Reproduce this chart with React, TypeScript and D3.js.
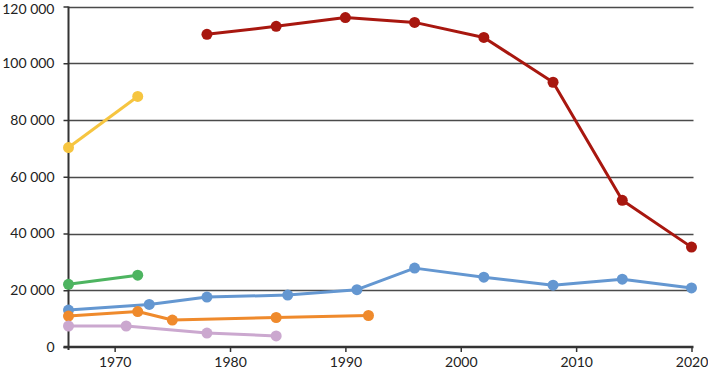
import { useEffect, useRef } from "react";
import * as d3 from "d3";

// Series values (year, value)
const redYears = [1978, 1984, 1990, 1996, 2002, 2008, 2014, 2020];
const redValues = [110200, 113000, 116100, 114400, 109100, 93300, 51700, 35200];

const yellowYears = [1966, 1972];
const yellowValues = [70300, 88300];

const greenYears = [1966, 1972];
const greenValues = [22100, 25300];

const blueYears = [1966, 1973, 1978, 1985, 1991, 1996, 2002, 2008, 2014, 2020];
const blueValues = [13000, 15000, 17600, 18300, 20200, 27800, 24600, 21800, 23900, 20800];

const orangeYears = [1966, 1972, 1975, 1984, 1992];
const orangeValues = [10900, 12500, 9500, 10400, 11100];

const purpleYears = [1966, 1971, 1978, 1984];
const purpleValues = [7400, 7400, 4900, 3900];

const yTicks = [0, 20000, 40000, 60000, 80000, 100000, 120000];
const xTicks = [1970, 1980, 1990, 2000, 2010, 2020];

type Pt = { year: number; value: number };
const zip = (ys: number[], vs: number[]): Pt[] => ys.map((year, i) => ({ year, value: vs[i] }));

const series = [
  { color: "#a8170f", width: 3, data: zip(redYears, redValues) },
  { color: "#f6c540", width: 3, data: zip(yellowYears, yellowValues) },
  { color: "#4db460", width: 3, data: zip(greenYears, greenValues) },
  { color: "#6497d1", width: 3, data: zip(blueYears, blueValues) },
  { color: "#ef8a2c", width: 3, data: zip(orangeYears, orangeValues) },
  { color: "#cba8cf", width: 3, data: zip(purpleYears, purpleValues) },
];

export default function App() {
  const ref = useRef<SVGSVGElement>(null);

  useEffect(() => {
    if (!ref.current) return;
    const svg = d3.select(ref.current);
    svg.selectAll("*").remove();

    const left = 68.5;
    const right = 693.5;
    const top = 6.5;
    const bottom = 347;

    const x = d3.scaleLinear().domain([1966, 2020]).range([left, 691.5]);
    const y = d3.scaleLinear().domain([0, 120000]).range([bottom, top]);

    const fmt = (v: number) => d3.format(",")(v).replace(/,/g, " ");
    const font = "Lato, 'Open Sans', sans-serif";

    // Horizontal grid lines
    svg
      .append("g")
      .selectAll("line")
      .data(yTicks.filter((t) => t > 0))
      .enter()
      .append("line")
      .attr("x1", left)
      .attr("x2", right)
      .attr("y1", (d) => Math.round(y(d)) + 0.5)
      .attr("y2", (d) => Math.round(y(d)) + 0.5)
      .attr("stroke", "#4a4a4a")
      .attr("stroke-width", 1.3);

    // Y axis
    svg
      .append("g")
      .attr("transform", `translate(${left},0)`)
      .call(d3.axisLeft(y).tickValues(yTicks).tickSize(5).tickPadding(9).tickFormat((d) => fmt(+d)))
      .call((g) => g.select(".domain").attr("stroke", "#333").attr("stroke-width", 2).attr("d", `M0,${top}V${bottom + 3}`))
      .call((g) => g.selectAll(".tick line").attr("stroke", "#333").attr("stroke-width", 1.5))
      .call((g) =>
        g
          .selectAll(".tick text")
          .attr("fill", "#222")
          .attr("dy", (d) => (+d === 120000 ? "0.5em" : "0.32em"))
          .style("font-size", "14px")
          .style("font-family", font)
      );

    // X axis
    svg
      .append("g")
      .attr("transform", `translate(0,${bottom})`)
      .call(d3.axisBottom(x).tickValues(xTicks).tickSize(5).tickPadding(5).tickFormat((d) => String(d)))
      .call((g) => g.select(".domain").attr("stroke", "#333").attr("stroke-width", 2.5).attr("d", `M${left - 5},0H${right}`))
      .call((g) => g.selectAll(".tick line").attr("stroke", "#333").attr("stroke-width", 1.5))
      .call((g) =>
        g.selectAll(".tick text").attr("fill", "#222").style("font-size", "14px").style("font-family", font)
      );

    const line = d3
      .line<Pt>()
      .x((d) => x(d.year))
      .y((d) => y(d.value));

    series.forEach((s) => {
      const g = svg.append("g");
      g.append("path")
        .datum(s.data)
        .attr("d", line)
        .attr("fill", "none")
        .attr("stroke", s.color)
        .attr("stroke-width", s.width)
        .attr("stroke-linejoin", "round");
      g.selectAll("circle")
        .data(s.data)
        .enter()
        .append("circle")
        .attr("cx", (d) => x(d.year))
        .attr("cy", (d) => y(d.value))
        .attr("r", 5.5)
        .attr("fill", s.color);
    });
  }, []);

  return (
    <svg
      ref={ref}
      width={708}
      height={371}
      style={{ position: "absolute", left: 0, top: 0, background: "#fff" }}
    />
  );
}
